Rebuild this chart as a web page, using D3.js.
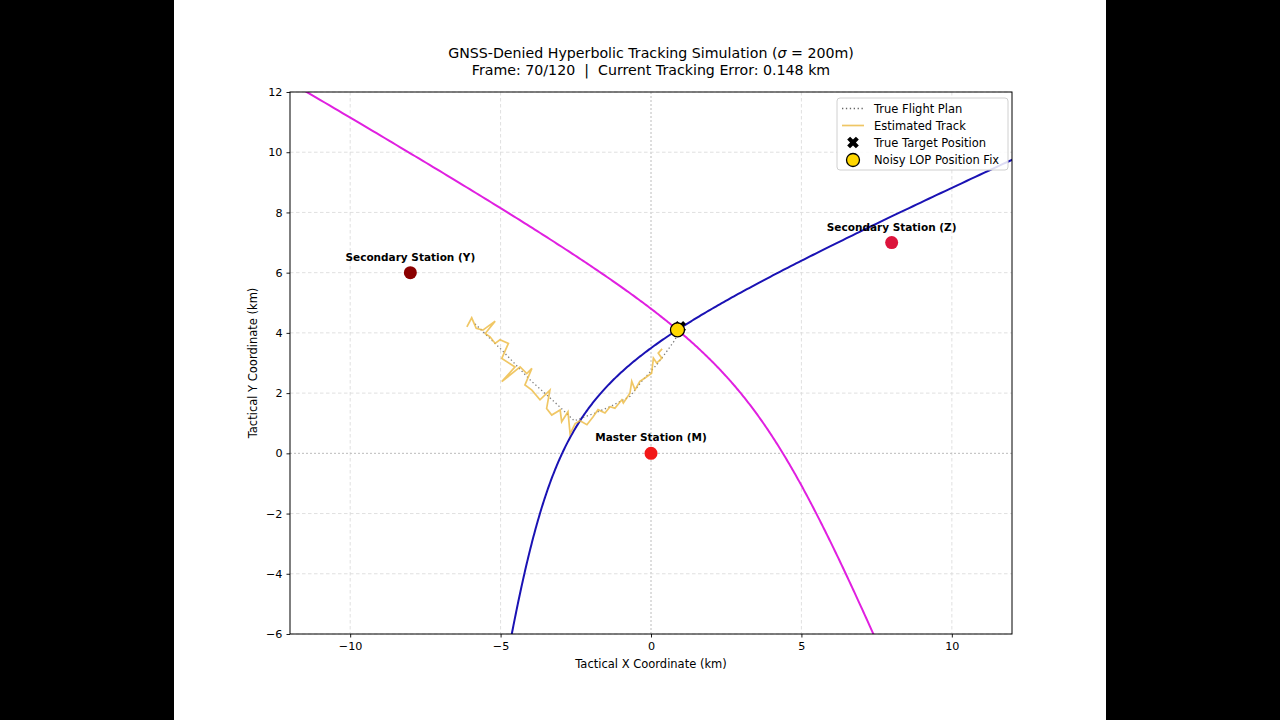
<!DOCTYPE html>
<html>
<head>
<meta charset="utf-8">
<script src="https://cdn.jsdelivr.net/npm/d3@7"></script>
<style>
  html, body { margin: 0; padding: 0; background: #000; }
  svg { display: block; }
  text { font-family: "DejaVu Sans", sans-serif; white-space: pre; }
</style>
</head>
<body>
<svg id="chart" width="1280" height="720"></svg>
<script>
// ---------------- data ----------------
const xTicks = [-10, -5, 0, 5, 10];
const yTicks = [-6, -4, -2, 0, 2, 4, 6, 8, 10, 12];
const xDomain = [-12, 12];
const yDomain = [-6, 12];

const stationNames = ["Master Station (M)", "Secondary Station (Y)", "Secondary Station (Z)"];
const stationX = [0, -8, 8];
const stationY = [0, 6, 7];
const stationColors = ["#f21818", "#8b0000", "#dc143c"];

// true flight plan waypoints (km) up to current frame
const planX = [-5.85, -4.95, -4.0, -3.2, -2.55, -1.86, -1.36, -0.70, -0.27, 0.19, 0.52, 0.80, 0.97];
const planY = [4.30, 3.42, 2.42, 1.70, 1.08, 1.34, 1.55, 1.89, 2.44, 2.94, 3.38, 3.77, 4.20];

// estimated (noisy) track (km)
const trackX = [-6.12, -5.96, -5.81, -5.59, -5.18, -5.51, -5.35, -5.18, -5.02, -4.74, -4.96, -4.52, -4.96, -4.35,
  -4.13, -3.96, -4.19, -3.96, -3.69, -3.36, -3.47, -3.30, -3.02, -2.97, -2.76, -2.69, -2.52, -2.36, -2.13, -1.93,
  -1.76, -1.53, -1.36, -1.20, -0.97, -0.92, -0.70, -0.64, -0.53, -0.37, -0.20, 0.02, 0.08, 0.19, 0.36, 0.24, 0.37];
const trackY = [4.20, 4.50, 4.15, 4.09, 4.39, 3.98, 3.87, 3.65, 3.77, 3.65, 3.15, 2.87, 2.38, 2.87,
  2.65, 2.82, 2.27, 2.10, 1.78, 2.10, 1.49, 1.27, 1.44, 1.05, 1.38, 0.65, 0.99, 1.08, 0.95, 1.21,
  1.45, 1.34, 1.55, 1.50, 1.78, 1.67, 2.00, 2.39, 2.11, 2.39, 2.50, 2.66, 3.16, 3.00, 3.16, 3.33, 3.47];

const trueTarget = [0.97, 4.20];
const lopFix = [0.88, 4.10];

const titleLine1 = "GNSS-Denied Hyperbolic Tracking Simulation (";
const titleSigma = "σ";
const titleLine1End = " = 200m)";
const titleLine2 = "Frame: 70/120  |  Current Tracking Error: 0.148 km";
const legendLabels = ["True Flight Plan", "Estimated Track", "True Target Position", "Noisy LOP Position Fix"];

// ---------------- layout ----------------
const svg = d3.select("#chart");
svg.append("rect").attr("x", 174).attr("y", 0).attr("width", 932).attr("height", 720).attr("fill", "#fff");

const L = 290, T = 92, W = 722, H = 542;
const x = d3.scaleLinear().domain(xDomain).range([L, L + W]);
const y = d3.scaleLinear().domain(yDomain).range([T + H, T]);

const defs = svg.append("defs");
defs.append("clipPath").attr("id", "clip").append("rect")
  .attr("x", L).attr("y", T).attr("width", W).attr("height", H);

// grid
const grid = svg.append("g");
xTicks.forEach(v => {
  grid.append("line").attr("x1", x(v)).attr("x2", x(v)).attr("y1", T).attr("y2", T + H)
    .attr("stroke", v === 0 ? "#b4b4b4" : "#dcdcdc").attr("stroke-width", 0.9)
    .attr("stroke-dasharray", v === 0 ? "2,2" : "3.5,2.5");
});
yTicks.forEach(v => {
  grid.append("line").attr("x1", L).attr("x2", L + W).attr("y1", y(v)).attr("y2", y(v))
    .attr("stroke", v === 0 ? "#b4b4b4" : "#dcdcdc").attr("stroke-width", 0.9)
    .attr("stroke-dasharray", v === 0 ? "2,2" : "3.5,2.5");
});

// hyperbola helper: branch closer to focus F1 with d(P,F2)-d(P,F1)=k
function hyperbola(f1, f2, k) {
  const cx = (f1[0] + f2[0]) / 2, cy = (f1[1] + f2[1]) / 2;
  const dx = f1[0] - cx, dy = f1[1] - cy;
  const c = Math.hypot(dx, dy);
  const ex = dx / c, ey = dy / c, nx = -ey, ny = ex;
  const a = k / 2, b = Math.sqrt(c * c - a * a);
  const pts = [];
  for (let t = -4; t <= 4.0001; t += 0.01) {
    const u = a * Math.cosh(t), w = b * Math.sinh(t);
    pts.push([cx + u * ex + w * nx, cy + u * ey + w * ny]);
  }
  return pts;
}
const dist = (p, q) => Math.hypot(p[0] - q[0], p[1] - q[1]);
const M = [stationX[0], stationY[0]], Y = [stationX[1], stationY[1]], Z = [stationX[2], stationY[2]];
const kY = dist(lopFix, Y) - dist(lopFix, M);
const kZ = dist(lopFix, Z) - dist(lopFix, M);

const line = d3.line().x(d => x(d[0])).y(d => y(d[1]));
const plot = svg.append("g").attr("clip-path", "url(#clip)");

plot.append("path").attr("d", line(hyperbola(M, Z, kZ)))
  .attr("fill", "none").attr("stroke", "#e020e0").attr("stroke-width", 2);
plot.append("path").attr("d", line(hyperbola(M, Y, kY)))
  .attr("fill", "none").attr("stroke", "#1a12b4").attr("stroke-width", 2);

// true flight plan
plot.append("path").attr("d", line(planX.map((v, i) => [v, planY[i]])))
  .attr("fill", "none").attr("stroke", "#666").attr("stroke-width", 1.3)
  .attr("stroke-dasharray", "1.3,2.6").attr("opacity", 0.85);

// estimated track
plot.append("path").attr("d", line(trackX.map((v, i) => [v, trackY[i]])))
  .attr("fill", "none").attr("stroke", "#ecb93f").attr("stroke-width", 1.7)
  .attr("stroke-linejoin", "miter").attr("opacity", 0.8);

// stations
stationNames.forEach((name, i) => {
  svg.append("circle").attr("cx", x(stationX[i])).attr("cy", y(stationY[i])).attr("r", 6.5)
    .attr("fill", stationColors[i]);
  svg.append("text").attr("x", x(stationX[i])).attr("y", y(stationY[i]) - 12)
    .attr("text-anchor", "middle").attr("font-size", 10.5).attr("font-weight", "bold")
    .attr("fill", "#000").text(name);
});

// true target (X marker) and fix
const xSym = d3.symbol().type(d3.symbolCross).size(85);
svg.append("path").attr("d", xSym())
  .attr("transform", `translate(${x(trueTarget[0])},${y(trueTarget[1])}) rotate(45)`)
  .attr("fill", "#000");
svg.append("circle").attr("cx", x(lopFix[0])).attr("cy", y(lopFix[1])).attr("r", 7)
  .attr("fill", "#ffd700").attr("stroke", "#000").attr("stroke-width", 1.3);

// axes
const fmt = d => d < 0 ? "\u2212" + Math.abs(d) : String(d);
const xAxis = d3.axisBottom(x).tickValues(xTicks).tickSize(3.5).tickPadding(5).tickFormat(fmt);
const yAxis = d3.axisLeft(y).tickValues(yTicks).tickSize(3.5).tickPadding(4).tickFormat(fmt);
const gx = svg.append("g").attr("transform", `translate(0,${T + H})`).call(xAxis);
const gy = svg.append("g").attr("transform", `translate(${L},0)`).call(yAxis);
[gx, gy].forEach(g => {
  g.select(".domain").remove();
  g.selectAll("text").attr("font-size", 11.2).attr("font-family", "DejaVu Sans").attr("fill", "#000");
  g.selectAll("line").attr("stroke", "#000").attr("stroke-width", 0.9);
});
svg.append("rect").attr("x", L).attr("y", T).attr("width", W).attr("height", H)
  .attr("fill", "none").attr("stroke", "#000").attr("stroke-width", 1);

// axis labels
svg.append("text").attr("x", L + W / 2).attr("y", 667.5).attr("text-anchor", "middle")
  .attr("font-size", 11.5).text("Tactical X Coordinate (km)");
svg.append("text").attr("transform", `translate(257,${T + H / 2}) rotate(-90)`)
  .attr("text-anchor", "middle").attr("font-size", 11.5).text("Tactical Y Coordinate (km)");

// title
const t1 = svg.append("text").attr("x", L + W / 2).attr("y", 58).attr("text-anchor", "middle")
  .attr("font-size", 14.2);
t1.append("tspan").text(titleLine1);
t1.append("tspan").attr("font-style", "italic").text(titleSigma);
t1.append("tspan").text(titleLine1End);
svg.append("text").attr("x", L + W / 2).attr("y", 75).attr("text-anchor", "middle")
  .attr("font-size", 14.2).text(titleLine2);

// legend
const lg = svg.append("g");
lg.append("rect").attr("x", 837).attr("y", 98).attr("width", 171).attr("height", 72).attr("rx", 3)
  .attr("fill", "#fff").attr("fill-opacity", 0.85).attr("stroke", "#d0d0d0").attr("stroke-width", 1);
const rows = [108.5, 125.5, 142.5, 160];
lg.append("line").attr("x1", 842).attr("x2", 864).attr("y1", rows[0]).attr("y2", rows[0])
  .attr("stroke", "#666").attr("stroke-width", 1.3).attr("stroke-dasharray", "1.3,2.6");
lg.append("line").attr("x1", 842).attr("x2", 864).attr("y1", rows[1]).attr("y2", rows[1])
  .attr("stroke", "#ecb93f").attr("stroke-width", 1.7).attr("opacity", 0.8);
lg.append("path").attr("d", xSym()).attr("transform", `translate(853,${rows[2]}) rotate(45)`).attr("fill", "#000");
lg.append("circle").attr("cx", 853).attr("cy", rows[3]).attr("r", 6.5)
  .attr("fill", "#ffd700").attr("stroke", "#000").attr("stroke-width", 1.3);
legendLabels.forEach((s, i) => {
  lg.append("text").attr("x", 874).attr("y", rows[i] + 4).attr("font-size", 11.5).text(s);
});
</script>
</body>
</html>
